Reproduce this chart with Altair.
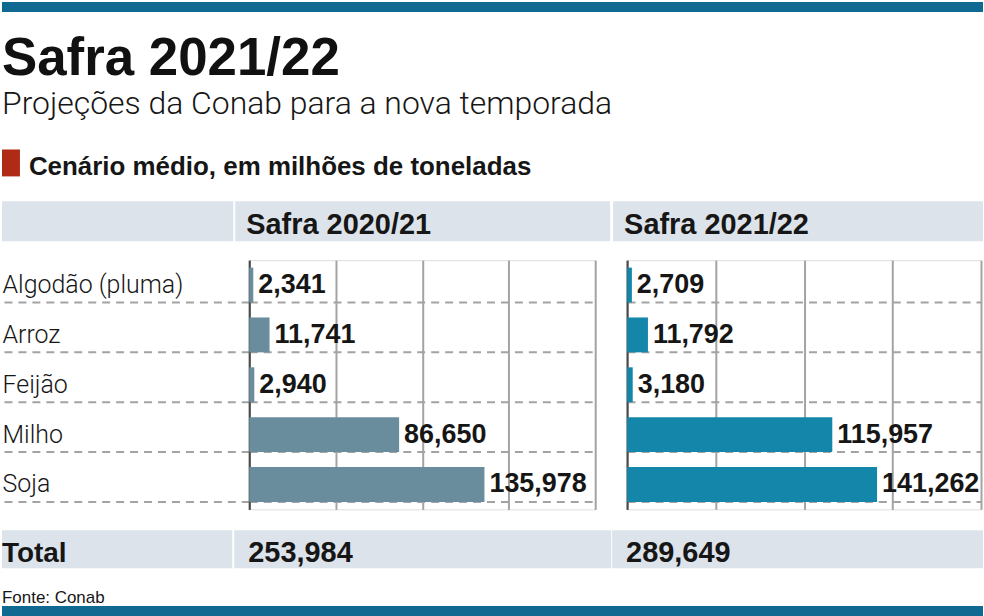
import altair as alt
import pandas as pd

# ---- data ----
crops = ["Algodão (pluma)", "Arroz", "Feijão", "Milho", "Soja"]
safra_2020_21 = [2.341, 11.741, 2.940, 86.650, 135.978]
safra_2021_22 = [2.709, 11.792, 3.180, 115.957, 141.262]
seasons = ["Safra 2020/21", "Safra 2021/22"]
totals = [253.984, 289.649]
grid_values = [0, 50, 100, 150, 200]
title_text = "Safra 2021/22"
subtitle_text = "Projeções da Conab para a nova temporada"
section_text = "Cenário médio, em milhões de toneladas"
source_text = "Fonte: Conab"
total_label = "Total"

# ---- style ----
GRID = "#a3a3a3"
BAND = "#dce3ea"
BLUE_BAR = "#0f6990"
RED = "#b02b15"
INK = "#161616"
C_LEFT = "#6a8d9d"
C_RIGHT = "#1486a9"
SANS = "'Liberation Sans', Arial, sans-serif"
LIGHT = "Roboto, 'Liberation Sans', sans-serif"

H = 250


def one_row(d):
    return alt.Chart(pd.DataFrame([d]))


def panel(idx, values, width, color, left):
    df = pd.DataFrame({"crop": crops, "value": values})
    base = alt.Chart(df)
    if left:
        yaxis = alt.Axis(
            title=None, domain=True, domainColor="#4a4a4a", domainWidth=2,
            ticks=True, tickSize=248, tickColor=GRID, tickWidth=2, tickDash=[8, 6],
            bandPosition=1, grid=True, gridColor=GRID, gridWidth=2, gridDash=[8, 6],
            labelAlign="left", labelPadding=0, labelFont=LIGHT, labelFontSize=25,
            labelFontWeight=300, labelColor=INK, labelLimit=240,
        )
    else:
        yaxis = alt.Axis(
            title=None, domain=True, domainColor="#4a4a4a", domainWidth=2,
            ticks=False, labels=False, bandPosition=1, grid=True,
            gridColor=GRID, gridWidth=2, gridDash=[8, 6],
        )
    y = alt.Y("crop:N", sort=crops, axis=yaxis,
              scale=alt.Scale(paddingInner=0.3, paddingOuter=0.15))
    x = alt.X("value:Q", title=None,
              scale=alt.Scale(domain=[0, 200], nice=False, zero=True),
              axis=alt.Axis(values=grid_values, labels=False, ticks=False,
                            domain=False, grid=True, gridColor=GRID, gridWidth=2))
    bars = base.mark_bar(color=color).encode(x=x, y=y)
    labels = base.mark_text(
        align="left", baseline="middle", dx=5, font=SANS, fontSize=27,
        fontWeight="bold", color=INK,
    ).encode(x="value:Q", y=alt.Y("crop:N", sort=crops),
             text=alt.Text("value:Q", format=".3f"))

    info = one_row({"season": seasons[idx], "total": totals[idx]})
    band_right = 362 if left else 357
    tot_right = 363 if left else 357
    head_band = info.mark_rect(color=BAND).encode(
        x=alt.value(-14), x2=alt.value(band_right), y=alt.value(-59), y2=alt.value(-19))
    head_text = info.mark_text(
        align="left", baseline="alphabetic", font=SANS, fontSize=29,
        fontWeight="bold", color=INK,
    ).encode(x=alt.value(-3), y=alt.value(-26), text="season:N")
    tot_band = info.mark_rect(color=BAND).encode(
        x=alt.value(-15), x2=alt.value(tot_right), y=alt.value(271), y2=alt.value(309))
    tot_text = info.mark_text(
        align="left", baseline="alphabetic", font=SANS, fontSize=29,
        fontWeight="bold", color=INK,
    ).encode(x=alt.value(-1), y=alt.value(303),
             text=alt.Text("total:Q", format=".3f"))

    layers = [head_band, head_text, tot_band, tot_text, bars, labels]

    if left:
        deco = one_row({"title": title_text, "subtitle": subtitle_text,
                        "section": section_text, "source": source_text,
                        "total": total_label})
        top_bar = deco.mark_rect(color=BLUE_BAR).encode(
            x=alt.value(-248), x2=alt.value(736), y=alt.value(-259), y2=alt.value(-249))
        bottom_bar = deco.mark_rect(color=BLUE_BAR).encode(
            x=alt.value(-248), x2=alt.value(736), y=alt.value(347), y2=alt.value(357))
        title = deco.mark_text(
            align="left", baseline="alphabetic", font=SANS, fontSize=53,
            fontWeight="bold", color="#111111",
        ).encode(x=alt.value(-248), y=alt.value(-186), text="title:N")
        subtitle = deco.mark_text(
            align="left", baseline="alphabetic", font=LIGHT, fontSize=32,
            fontWeight=300, color=INK,
        ).encode(x=alt.value(-248), y=alt.value(-147), text="subtitle:N")
        red_sq = deco.mark_rect(color=RED).encode(
            x=alt.value(-248), x2=alt.value(-230), y=alt.value(-111), y2=alt.value(-84))
        section = deco.mark_text(
            align="left", baseline="alphabetic", font=SANS, fontSize=26,
            fontWeight="bold", color=INK,
        ).encode(x=alt.value(-221), y=alt.value(-85), text="section:N")
        head_band_l = deco.mark_rect(color=BAND).encode(
            x=alt.value(-248), x2=alt.value(-16), y=alt.value(-59), y2=alt.value(-19))
        tot_band_l = deco.mark_rect(color=BAND).encode(
            x=alt.value(-248), x2=alt.value(-17), y=alt.value(271), y2=alt.value(309))
        tot_lbl = deco.mark_text(
            align="left", baseline="alphabetic", font=SANS, fontSize=28,
            fontWeight="bold", color=INK,
        ).encode(x=alt.value(-248), y=alt.value(303), text="total:N")
        source = deco.mark_text(
            align="left", baseline="alphabetic", font=SANS, fontSize=17,
            color=INK,
        ).encode(x=alt.value(-248), y=alt.value(344), text="source:N")
        layers = [top_bar, bottom_bar, title, subtitle, red_sq, section,
                  head_band_l, tot_band_l, tot_lbl, source] + layers

    return alt.layer(*layers).properties(width=width, height=H)


left_panel = panel(0, safra_2020_21, 347, C_LEFT, True)
right_panel = panel(1, safra_2021_22, 355, C_RIGHT, False)

chart = alt.hconcat(left_panel, right_panel, spacing=32, bounds="flush").properties(
    padding=0, background="white"
).configure_view(
    stroke=GRID, strokeWidth=2, strokeDash=[8, 6]
).configure(
    locale=alt.Locale(number=alt.NumberLocale(
        decimal=",", thousands=".", grouping=[3], currency=["R$ ", ""]))
)

chart.save("out.html", embed_options={"renderer": "svg", "actions": False})
